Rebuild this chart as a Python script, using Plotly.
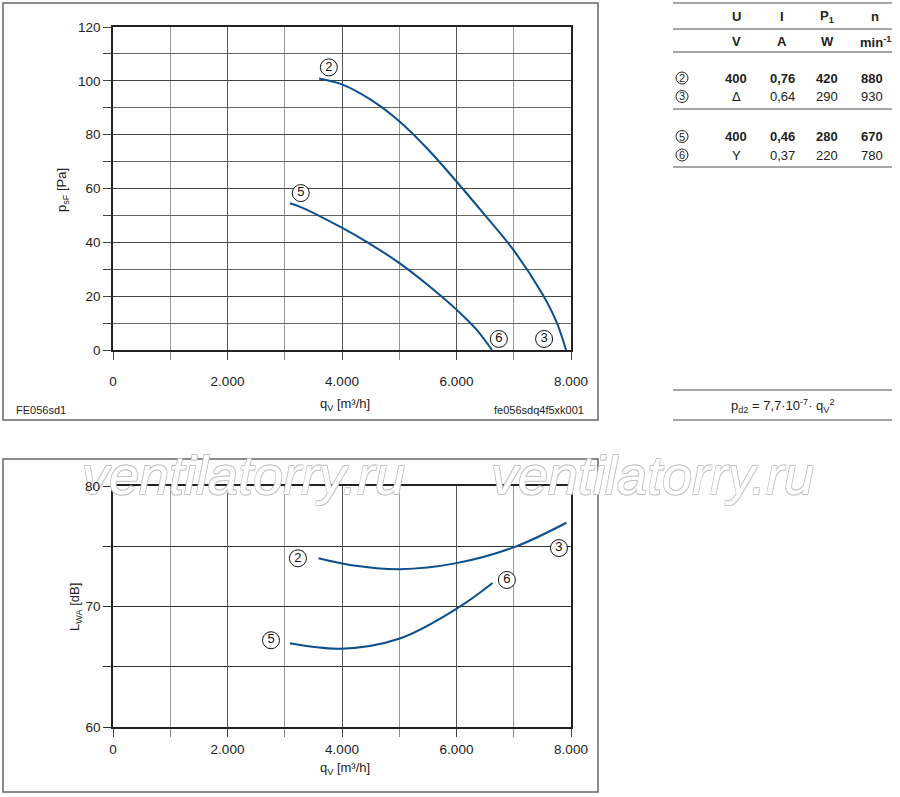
import plotly.graph_objects as go

W, H = 900, 797

# --- curves ---
# pressure curves (upper chart)
q_p2 = [3600, 4000, 4500, 5000, 5500, 6000, 6500, 7000, 7500, 7750, 7913]
p_p2 = [100.9, 98.7, 93.0, 85.0, 74.6, 62.6, 50.0, 37.0, 20.8, 10.3, 0]
q_p5 = [3090, 3270, 4020, 4430, 5010, 5600, 6000, 6350, 6620]
p_p5 = [54.5, 53.2, 45.2, 40.2, 32.2, 22.4, 15.0, 7.6, 0]

# sound power curves (lower chart)
q_l2 = [3590, 4140, 5010, 6000, 7020, 7920]
l_l2 = [74.0, 73.45, 73.1, 73.6, 74.95, 76.95]
q_l5 = [3090, 3970, 5010, 6030, 6630]
l_l5 = [66.95, 66.5, 67.35, 69.9, 71.95]

# circled curve labels
lab_p = ["2", "5", "6", "3"]
lab_p_x = [3770, 3280, 6740, 7530]
lab_p_y = [105, 58.3, 4.1, 4.1]
lab_l = ["2", "5", "6", "3"]
lab_l_x = [3230, 2760, 6880, 7790]
lab_l_y = [74.0, 67.2, 72.2, 74.85]

# ticks
x_ticks = [0, 2000, 4000, 6000, 8000]
x_ticktext = ["0", "2.000", "4.000", "6.000", "8.000"]
l_ticks = [60, 70, 80]

# table on the right
tab_head1 = ["U", "I", "P<sub>1</sub>", "n"]
tab_head2 = ["V", "A", "W", "min<sup>-1</sup>"]
tab_marks = ["2", "3", "5", "6"]
tab_rows = [
    ["400", "0,76", "420", "880"],
    ["Δ", "0,64", "290", "930"],
    ["400", "0,46", "280", "670"],
    ["Y", "0,37", "220", "780"],
]
tab_bold = [True, False, True, False]

BLUE = "#0b4f8c"
FONT = "Liberation Sans, Arial, sans-serif"


def px(x):
    return x / W


def py(y):
    return 1 - y / H


fig = go.Figure()

line = dict(color=BLUE, width=2, shape="spline", smoothing=1.0)
fig.add_trace(go.Scatter(x=q_p2, y=p_p2, mode="lines", line=line, xaxis="x", yaxis="y"))
fig.add_trace(go.Scatter(x=q_p5, y=p_p5, mode="lines", line=line, xaxis="x", yaxis="y"))
fig.add_trace(go.Scatter(x=q_l2, y=l_l2, mode="lines", line=line, xaxis="x2", yaxis="y2"))
fig.add_trace(go.Scatter(x=q_l5, y=l_l5, mode="lines", line=line, xaxis="x2", yaxis="y2"))

mark = dict(symbol="circle", size=17, color="white", line=dict(color="#111", width=1))
fig.add_trace(go.Scatter(x=lab_p_x, y=lab_p_y, mode="markers+text", text=lab_p, marker=mark,
                         textposition="middle center",
                         textfont=dict(family=FONT, size=13, color="#111"),
                         xaxis="x", yaxis="y"))
fig.add_trace(go.Scatter(x=lab_l_x, y=lab_l_y, mode="markers+text", text=lab_l, marker=mark,
                         textposition="middle center",
                         textfont=dict(family=FONT, size=13, color="#111"),
                         xaxis="x2", yaxis="y2"))

xdom = [px(113), px(571)]
common_x = dict(
    range=[0, 8000], tickvals=x_ticks, ticktext=x_ticktext, ticks="outside", ticklen=8,
    tickcolor="#444", showline=True, linecolor="#222", linewidth=1.5, mirror=True,
    showgrid=True, gridcolor="#555", gridwidth=1, zeroline=False, automargin=False,
    minor=dict(dtick=1000, ticks="outside", ticklen=8, tickcolor="#888",
               showgrid=True, gridcolor="#999", gridwidth=1),
    tickfont=dict(family=FONT, size=13.5, color="#222"), domain=xdom, fixedrange=True,
)

fig.update_layout(
    width=W, height=H, margin=dict(l=0, r=0, t=0, b=0),
    paper_bgcolor="white", plot_bgcolor="white", showlegend=False,
    xaxis=dict(common_x, anchor="y", ticklabelstandoff=10),
    yaxis=dict(range=[0, 120], dtick=20, ticks="outside", ticklen=8, tickcolor="#444",
               showline=True, linecolor="#222", linewidth=1.5, mirror=True,
               showgrid=True, gridcolor="#444", zeroline=False, automargin=False,
               minor=dict(dtick=10, ticks="outside", ticklen=8, tickcolor="#444",
                          showgrid=True, gridcolor="#666"),
               tickfont=dict(family=FONT, size=13.5, color="#222"),
               domain=[py(350), py(27)], anchor="x", fixedrange=True),
    xaxis2=dict(common_x, anchor="y2", ticklabelstandoff=1),
    # the top label (80) is written after the watermark so it stays visible
    yaxis2=dict(range=[60, 80], tickvals=l_ticks, ticktext=[str(v) for v in l_ticks[:-1]] + [""],
                ticks="outside", ticklen=8, tickcolor="#333",
                showline=True, linecolor="#222", linewidth=1.5, mirror=True,
                showgrid=True, gridcolor="#333", zeroline=False, automargin=False,
                minor=dict(dtick=5, ticks="outside", ticklen=8, tickcolor="#333",
                           showgrid=True, gridcolor="#333"),
                tickfont=dict(family=FONT, size=13.5, color="#222"),
                domain=[py(727), py(486)], anchor="x2", fixedrange=True),
)

shapes = []
# frames around the two charts
for x0, y0, x1, y1 in [(3, 3, 598, 420), (3, 459, 598, 792)]:
    shapes.append(dict(type="rect", xref="paper", yref="paper", x0=px(x0), x1=px(x1),
                       y0=py(y1), y1=py(y0), line=dict(color="#666", width=1.5)))
# table rules
for yy in [3, 29, 52, 109, 167, 390, 420]:
    shapes.append(dict(type="line", xref="paper", yref="paper", x0=px(673), x1=px(892),
                       y0=py(yy), y1=py(yy), line=dict(color="#888", width=1.3)))
# small circles of the table
for ry in [78, 96.5, 136.5, 155]:
    shapes.append(dict(type="circle", xref="paper", yref="paper", x0=px(676), x1=px(688),
                       y0=py(ry + 6), y1=py(ry - 6), line=dict(color="#222", width=1)))
fig.update_layout(shapes=shapes)

ann = []


def text(x, y, s, size=13, xanchor="center", bold=False, angle=0, color="#222"):
    if bold:
        s = "<b>" + s + "</b>"
    ann.append(dict(x=px(x), y=py(y), xref="paper", yref="paper", text=s, showarrow=False,
                    xanchor=xanchor, yanchor="middle", textangle=angle,
                    font=dict(family=FONT, size=size, color=color)))


# watermark
for wx in [243, 652]:
    ann.append(dict(x=px(wx), y=py(475), xref="paper", yref="paper", text="<i>ventilatorry.ru</i>",
                    showarrow=False, xanchor="center", yanchor="middle",
                    font=dict(family=FONT, size=54, color="white",
                              shadow="0.7px 0.7px 0 #c4c4c4, -0.7px -0.7px 0 #c4c4c4, "
                                     "0.7px -0.7px 0 #c4c4c4, -0.7px 0.7px 0 #c4c4c4")))

ann.append(dict(x=px(102), y=l_ticks[-1], xref="paper", yref="y2", text=str(l_ticks[-1]),
                showarrow=False, xanchor="right", yanchor="middle",
                font=dict(family=FONT, size=13.5, color="#222")))

# axis titles and captions
text(345, 404, "q<sub>V</sub> [m³/h]", size=13)
text(345, 768, "q<sub>V</sub> [m³/h]", size=13)
text(62, 190, "p<sub>sF</sub> [Pa]", size=13, angle=-90)
text(75, 607, "L<sub>WA</sub> [dB]", size=13, angle=-90)
text(14, 410, "FE056sd1", size=11, xanchor="left")
text(586, 410, "fe056sdq4f5xk001", size=11, xanchor="right")
text(782, 406, "p<sub>d2</sub> = 7,7·10<sup>-7</sup>· q<sub>V</sub><sup>2</sup>", size=13)

# table
cols = [736, 782, 827, 875]
for cx, h1, h2 in zip(cols, tab_head1, tab_head2):
    text(cx, 16, h1, bold=True)
    text(cx, 42, h2, bold=True)
for ry, m, row, b in zip([78, 96.5, 136.5, 155], tab_marks, tab_rows, tab_bold):
    text(682, ry, m, size=11)
    for cx, v in zip(cols, row):
        text(cx if cx != 875 else 872, ry, v, bold=b)

fig.update_layout(annotations=ann)

fig.write_html("out.html", config={"displayModeBar": False},
               post_script="document.body.style.margin='0';document.body.style.overflow='hidden';")
